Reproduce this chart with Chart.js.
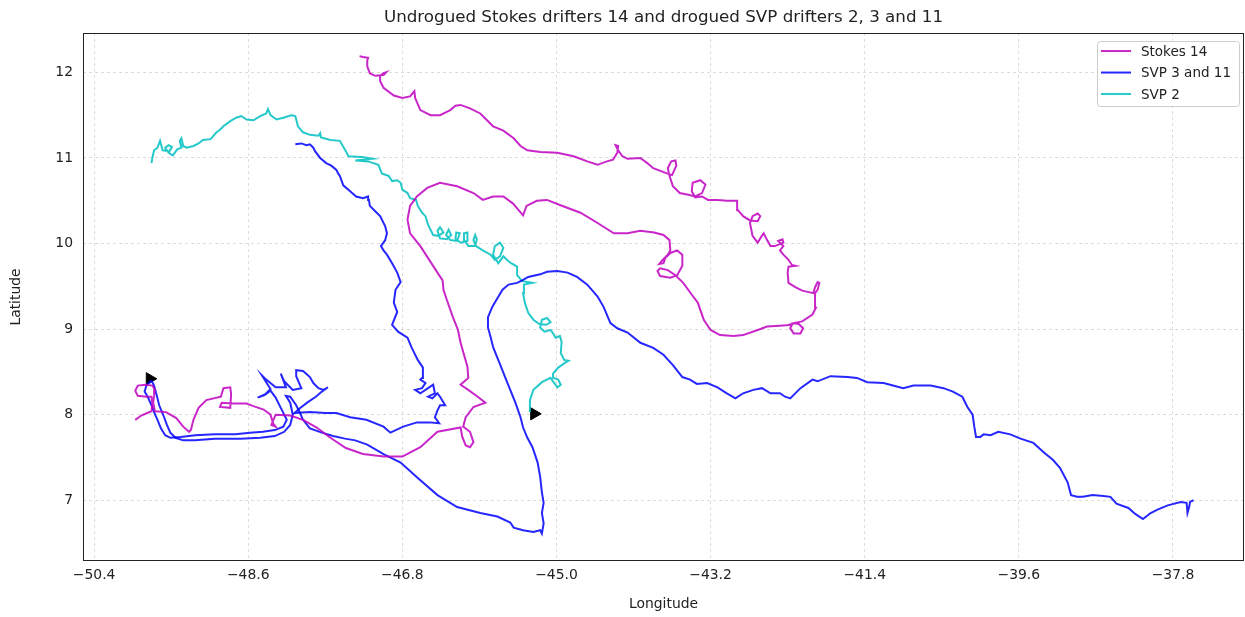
<!DOCTYPE html>
<html>
<head>
<meta charset="utf-8">
<script src="https://cdn.jsdelivr.net/npm/chart.js@4.4.1/dist/chart.umd.min.js"></script>
<style>
  body { margin: 0; background: #fff; }
  #wrap { width: 1245px; height: 617px; }
</style>
</head>
<body>
<div id="wrap"><canvas id="myChart" width="1245" height="617"></canvas></div>
<script>
// drifter tracks, [longitude, latitude]
const stokes14 = [
  [-49.92,7.94],[-49.85,7.99],[-49.78,8.02],[-49.73,8.04],[-49.72,8.13],[-49.73,8.21],[-49.79,8.21],[-49.89,8.22],[-49.92,8.28],[-49.89,8.34],
  [-49.80,8.35],[-49.72,8.34],[-49.69,8.29],[-49.70,8.22],[-49.71,8.14],[-49.69,8.04],[-49.56,8.03],[-49.44,7.96],[-49.36,7.86],[-49.29,7.80],
  [-49.27,7.82],[-49.24,7.94],[-49.18,8.08],[-49.09,8.17],[-48.92,8.21],[-48.89,8.31],[-48.81,8.32],[-48.80,8.24],[-48.81,8.08],[-48.93,8.09],
  [-48.91,8.14],[-48.78,8.13],[-48.62,8.13],[-48.54,8.10],[-48.42,8.06],[-48.34,8.00],[-48.31,7.90],[-48.28,7.86],[-48.33,7.88],[-48.28,8.00],
  [-48.11,7.99],[-47.96,7.94],[-47.80,7.85],[-47.64,7.73],[-47.46,7.61],[-47.26,7.54],[-47.02,7.51],[-46.80,7.51],[-46.59,7.62],[-46.39,7.80],
  [-46.12,7.85],[-46.10,7.74],[-46.06,7.64],[-46.01,7.62],[-45.97,7.68],[-46.01,7.80],[-46.09,7.86],[-46.06,7.97],[-45.97,8.09],[-45.83,8.14],
  [-45.92,8.21],[-46.03,8.29],[-46.12,8.35],[-46.03,8.43],[-46.04,8.56],[-46.12,8.84],[-46.15,8.99],[-46.21,9.14],[-46.28,9.34],[-46.32,9.46],
  [-46.33,9.57],[-46.39,9.66],[-46.59,9.97],[-46.71,10.12],[-46.74,10.28],[-46.71,10.44],[-46.63,10.55],[-46.51,10.65],[-46.36,10.71],[-46.16,10.67],
  [-45.97,10.59],[-45.86,10.51],[-45.74,10.55],[-45.62,10.55],[-45.51,10.47],[-45.39,10.33],[-45.35,10.44],[-45.23,10.50],[-45.11,10.51],[-44.96,10.45],
  [-44.72,10.36],[-44.52,10.24],[-44.33,10.12],[-44.17,10.12],[-44.02,10.15],[-43.86,10.13],[-43.75,10.10],[-43.68,10.04],[-43.67,9.92],[-43.70,9.87],
  [-43.76,9.81],[-43.80,9.76],[-43.75,9.77],[-43.73,9.83],[-43.67,9.89],[-43.59,9.92],[-43.53,9.87],[-43.53,9.74],[-43.59,9.63],[-43.67,9.60],
  [-43.79,9.62],[-43.82,9.68],[-43.79,9.71],[-43.70,9.69],[-43.61,9.63],[-43.52,9.54],[-43.41,9.39],[-43.35,9.31],[-43.28,9.11],[-43.20,8.99],
  [-43.09,8.93],[-42.93,8.92],[-42.82,8.93],[-42.65,8.99],[-42.54,9.03],[-42.39,9.04],[-42.25,9.05],[-42.27,9.01],[-42.23,8.95],[-42.15,8.95],
  [-42.12,9.01],[-42.17,9.06],[-42.23,9.07],[-42.13,9.09],[-42.01,9.17],[-41.97,9.25],[-41.98,9.42],[-41.95,9.46],[-41.93,9.54],[-41.95,9.55],
  [-41.98,9.49],[-42.00,9.42],[-42.13,9.45],[-42.21,9.49],[-42.29,9.54],[-42.30,9.66],[-42.29,9.73],[-42.21,9.74],[-42.25,9.75],[-42.29,9.81],
  [-42.35,9.87],[-42.39,9.92],[-42.35,9.97],[-42.41,10.03],[-42.36,10.05],[-42.35,10.01],[-42.45,9.97],[-42.50,9.97],[-42.54,10.04],[-42.58,10.12],
  [-42.62,10.06],[-42.65,10.01],[-42.71,10.09],[-42.74,10.24],[-42.71,10.32],[-42.65,10.35],[-42.62,10.32],[-42.65,10.26],[-42.74,10.27],[-42.82,10.32],
  [-42.88,10.39],[-42.89,10.50],[-43.01,10.50],[-43.12,10.51],[-43.23,10.51],[-43.30,10.55],[-43.38,10.54],[-43.42,10.61],[-43.41,10.71],[-43.32,10.74],
  [-43.26,10.69],[-43.30,10.59],[-43.38,10.55],[-43.46,10.57],[-43.56,10.59],[-43.64,10.67],[-43.68,10.79],[-43.70,10.88],[-43.66,10.96],[-43.61,10.97],
  [-43.60,10.91],[-43.65,10.80],[-43.71,10.82],[-43.87,10.88],[-43.94,10.94],[-44.02,11.00],[-44.17,10.99],[-44.23,11.02],[-44.28,11.09],[-44.31,11.15],
  [-44.28,11.14],[-44.29,11.06],[-44.34,10.98],[-44.41,10.96],[-44.52,10.92],[-44.64,10.96],[-44.80,11.02],[-44.99,11.06],[-45.19,11.07],[-45.34,11.09],
  [-45.42,11.14],[-45.50,11.23],[-45.62,11.32],[-45.74,11.37],[-45.89,11.52],[-46.01,11.58],[-46.12,11.62],[-46.18,11.61],[-46.24,11.56],[-46.36,11.50],
  [-46.47,11.50],[-46.59,11.56],[-46.65,11.70],[-46.66,11.78],[-46.71,11.72],[-46.80,11.70],[-46.90,11.73],[-47.02,11.82],[-47.06,11.90],[-47.06,11.96],
  [-47.02,11.99],[-46.99,12.00],[-47.02,11.97],[-47.12,11.96],[-47.18,11.99],[-47.21,12.07],[-47.21,12.14],[-47.20,12.17],[-47.26,12.18],[-47.30,12.19]
];

const svp3 = [
  [-49.73,8.40],[-49.79,8.34],[-49.81,8.27],[-49.77,8.20],[-49.73,8.11],[-49.70,8.03],[-49.66,7.94],[-49.62,7.84],[-49.57,7.76],[-49.51,7.73],
  [-49.39,7.74],[-49.22,7.76],[-48.99,7.77],[-48.75,7.77],[-48.58,7.79],[-48.43,7.80],[-48.29,7.82],[-48.19,7.86],[-48.15,7.94],[-48.22,8.08],
  [-48.28,8.20],[-48.34,8.28],[-48.41,8.23],[-48.49,8.20],[-48.40,8.24],[-48.34,8.30],[-48.39,8.38],[-48.44,8.46],[-48.39,8.41],[-48.28,8.32],
  [-48.16,8.32],[-48.19,8.40],[-48.22,8.48],[-48.18,8.39],[-48.08,8.29],[-47.98,8.31],[-48.04,8.45],[-48.04,8.52],[-47.96,8.51],[-47.88,8.44],
  [-47.84,8.37],[-47.78,8.31],[-47.72,8.29],[-47.67,8.32],[-47.74,8.27],[-47.81,8.21],[-47.90,8.15],[-47.99,8.08],[-48.06,8.02],[-47.88,8.03],
  [-47.70,8.02],[-47.57,8.02],[-47.41,7.97],[-47.22,7.94],[-47.02,7.86],[-46.94,7.79],[-46.79,7.86],[-46.63,7.91],[-46.48,7.91],[-46.37,7.90],
  [-46.42,7.97],[-46.39,8.05],[-46.36,8.11],[-46.30,8.11],[-46.36,8.21],[-46.39,8.25],[-46.45,8.19],[-46.50,8.21],[-46.42,8.25],[-46.44,8.35],
  [-46.50,8.31],[-46.59,8.25],[-46.65,8.29],[-46.57,8.31],[-46.53,8.37],[-46.59,8.41],[-46.57,8.43],[-46.56,8.55],[-46.62,8.64],[-46.69,8.78],
  [-46.74,8.90],[-46.85,8.97],[-46.92,9.05],[-46.86,9.20],[-46.90,9.31],[-46.88,9.46],[-46.82,9.55],[-46.86,9.66],[-46.92,9.77],[-46.98,9.87],
  [-47.02,9.92],[-47.05,9.97],[-47.00,10.04],[-46.98,10.12],[-47.00,10.20],[-47.06,10.32],[-47.12,10.38],[-47.18,10.44],[-47.19,10.51],[-47.20,10.55],
  [-47.26,10.53],[-47.34,10.55],[-47.41,10.61],[-47.49,10.68],[-47.53,10.79],[-47.55,10.82],[-47.57,10.86],[-47.63,10.91],[-47.69,10.94],[-47.76,11.00],
  [-47.82,11.08],[-47.84,11.12],[-47.88,11.16],[-47.92,11.15],[-47.98,11.17],[-48.05,11.16]
];

const svp11 = [
  [-49.73,8.40],[-49.70,8.34],[-49.67,8.23],[-49.64,8.11],[-49.59,7.99],[-49.55,7.88],[-49.51,7.79],[-49.45,7.73],[-49.36,7.70],[-49.22,7.70],
  [-48.99,7.72],[-48.69,7.72],[-48.46,7.73],[-48.29,7.75],[-48.18,7.80],[-48.11,7.88],[-48.08,8.00],[-48.11,8.14],[-48.16,8.22],[-48.11,8.21],
  [-48.04,8.11],[-48.00,8.03],[-47.96,7.94],[-47.88,7.84],[-47.74,7.79],[-47.61,7.75],[-47.47,7.72],[-47.35,7.70],[-47.21,7.65],[-47.02,7.54],
  [-46.82,7.44],[-46.63,7.27],[-46.39,7.06],[-46.16,6.92],[-45.89,6.85],[-45.69,6.81],[-45.54,6.74],[-45.50,6.68],[-45.39,6.65],[-45.27,6.63],
  [-45.19,6.65],[-45.17,6.61],[-45.15,6.73],[-45.17,6.85],[-45.15,6.97],[-45.17,7.09],[-45.19,7.27],[-45.22,7.44],[-45.28,7.62],[-45.34,7.73],
  [-45.39,7.85],[-45.42,7.97],[-45.48,8.14],[-45.54,8.29],[-45.60,8.44],[-45.68,8.64],[-45.74,8.79],[-45.77,8.91],[-45.80,9.02],[-45.80,9.14],
  [-45.75,9.26],[-45.69,9.36],[-45.63,9.46],[-45.56,9.52],[-45.46,9.54],[-45.40,9.57],[-45.33,9.61],[-45.19,9.64],[-45.11,9.67],[-44.99,9.68],
  [-44.87,9.66],[-44.76,9.61],[-44.64,9.52],[-44.52,9.38],[-44.45,9.26],[-44.37,9.07],[-44.29,9.01],[-44.17,8.96],[-44.02,8.84],[-43.87,8.78],
  [-43.75,8.70],[-43.64,8.58],[-43.53,8.44],[-43.44,8.41],[-43.36,8.36],[-43.24,8.37],[-43.12,8.32],[-43.01,8.25],[-42.91,8.19],[-42.82,8.25],
  [-42.70,8.29],[-42.60,8.31],[-42.50,8.25],[-42.39,8.25],[-42.33,8.21],[-42.27,8.19],[-42.15,8.31],[-42.01,8.41],[-41.95,8.39],[-41.80,8.45],
  [-41.60,8.44],[-41.49,8.43],[-41.37,8.38],[-41.18,8.37],[-41.07,8.34],[-40.95,8.31],[-40.83,8.34],[-40.63,8.34],[-40.48,8.31],[-40.37,8.27],
  [-40.26,8.21],[-40.20,8.09],[-40.14,8.00],[-40.12,7.86],[-40.10,7.74],[-40.05,7.74],[-40.01,7.77],[-39.93,7.76],[-39.84,7.80],[-39.70,7.77],
  [-39.58,7.72],[-39.43,7.67],[-39.31,7.56],[-39.20,7.47],[-39.12,7.38],[-39.03,7.21],[-38.99,7.06],[-38.92,7.04],[-38.85,7.04],[-38.74,7.06],
  [-38.61,7.05],[-38.53,7.04],[-38.46,6.96],[-38.32,6.91],[-38.24,6.84],[-38.15,6.78],[-38.06,6.85],[-37.98,6.89],[-37.86,6.94],[-37.71,6.98],
  [-37.64,6.97],[-37.63,6.85],[-37.61,6.92],[-37.60,6.98],[-37.56,7.00]
];

const svp2 = [
  [-45.31,8.03],[-45.31,8.17],[-45.27,8.29],[-45.17,8.38],[-45.07,8.43],[-44.99,8.32],[-44.95,8.35],[-44.98,8.41],[-45.04,8.43],[-45.04,8.48],
  [-44.98,8.55],[-44.91,8.60],[-44.86,8.63],[-44.91,8.64],[-44.95,8.72],[-44.94,8.85],[-44.96,8.92],[-45.01,8.90],[-45.04,8.95],[-45.07,8.99],
  [-45.14,8.97],[-45.19,9.02],[-45.17,9.11],[-45.11,9.13],[-45.07,9.08],[-45.12,9.05],[-45.20,9.06],[-45.27,9.11],[-45.33,9.19],[-45.37,9.31],
  [-45.39,9.42],[-45.38,9.52],[-45.28,9.54],[-45.34,9.55],[-45.40,9.56],[-45.46,9.63],[-45.46,9.73],[-45.53,9.77],[-45.58,9.81],[-45.62,9.85],
  [-45.68,9.77],[-45.74,9.87],[-45.72,9.97],[-45.66,10.01],[-45.62,9.95],[-45.66,9.85],[-45.72,9.81],[-45.77,9.87],[-45.86,9.92],[-45.94,9.97],
  [-45.97,10.04],[-45.95,10.10],[-45.93,10.05],[-45.95,9.97],[-46.03,9.97],[-46.07,10.03],[-46.08,10.12],[-46.04,10.13],[-46.04,10.03],[-46.12,10.01],
  [-46.18,10.06],[-46.17,10.13],[-46.13,10.12],[-46.16,10.03],[-46.24,10.04],[-46.29,10.10],[-46.26,10.16],[-46.23,10.10],[-46.28,10.05],[-46.36,10.06],
  [-46.39,10.15],[-46.36,10.19],[-46.32,10.13],[-46.38,10.09],[-46.44,10.10],[-46.50,10.22],[-46.53,10.32],[-46.57,10.36],[-46.62,10.44],[-46.64,10.51],
  [-46.71,10.53],[-46.74,10.59],[-46.80,10.63],[-46.82,10.71],[-46.86,10.74],[-46.92,10.73],[-46.96,10.79],[-47.04,10.82],[-47.08,10.92],[-47.20,10.96],
  [-47.35,10.97],[-47.15,10.99],[-47.27,11.01],[-47.43,11.02],[-47.46,11.08],[-47.53,11.20],[-47.64,11.21],[-47.75,11.24],[-47.76,11.29],[-47.78,11.26],
  [-47.88,11.27],[-47.96,11.30],[-48.02,11.37],[-48.05,11.49],[-48.10,11.50],[-48.19,11.47],[-48.27,11.45],[-48.34,11.50],[-48.37,11.57],[-48.39,11.52],
  [-48.46,11.49],[-48.54,11.44],[-48.62,11.45],[-48.68,11.49],[-48.74,11.47],[-48.81,11.43],[-48.89,11.37],[-48.93,11.33],[-48.97,11.30],[-49.04,11.22],
  [-49.13,11.21],[-49.18,11.17],[-49.24,11.14],[-49.32,11.12],[-49.36,11.14],[-49.38,11.23],[-49.40,11.20],[-49.38,11.12],[-49.43,11.10],[-49.48,11.03],
  [-49.53,11.06],[-49.57,11.12],[-49.53,11.15],[-49.49,11.13],[-49.52,11.08],[-49.60,11.09],[-49.63,11.20],[-49.66,11.12],[-49.70,11.09],[-49.72,11.00],
  [-49.73,10.94]
];

// deployment positions (black triangles)
const startLon = [-49.75, -45.26];
const startLat = [8.42, 8.01];

const xTicks = [-50.4, -48.6, -46.8, -45.0, -43.2, -41.4, -39.6, -37.8];
const yTicks = [7, 8, 9, 10, 11, 12];

const titleText = 'Undrogued Stokes drifters 14 and drogued SVP drifters 2, 3 and 11';
const FONT = "'DejaVu Sans', sans-serif";

const MAGENTA = 'rgba(191,0,191,0.85)';
const BLUE = 'rgba(0,0,255,0.85)';
const CYAN = 'rgba(0,191,191,0.85)';

const toXY = arr => arr.map(p => ({x: p[0], y: p[1]}));

function track(label, pts, color) {
  return {
    label: label,
    data: toXY(pts),
    showLine: true,
    borderColor: color,
    backgroundColor: color,
    borderWidth: 2,
    pointRadius: 0,
    tension: 0
  };
}

// legend inside the axes, top right, like matplotlib
const legendItems = [
  {label: 'Stokes 14', color: MAGENTA},
  {label: 'SVP 3 and 11', color: BLUE},
  {label: 'SVP 2', color: CYAN}
];

const frameAndLegend = {
  id: 'frameAndLegend',
  afterDraw(chart) {
    const {ctx, chartArea: a} = chart;
    ctx.save();
    // spines
    ctx.strokeStyle = '#222';
    ctx.lineWidth = 1;
    ctx.strokeRect(Math.round(a.left) + 0.5, Math.round(a.top) + 0.5,
                   Math.round(a.right - a.left) - 1, Math.round(a.bottom - a.top) - 1);

    // legend box
    const bw = 142, bh = 65;
    const bx = a.right - 5 - bw, by = a.top + 8;
    ctx.fillStyle = 'rgba(255,255,255,0.8)';
    ctx.strokeStyle = '#cccccc';
    ctx.beginPath();
    ctx.roundRect(bx + 0.5, by + 0.5, bw, bh, 3);
    ctx.fill();
    ctx.stroke();

    ctx.font = '13.5px ' + FONT;
    ctx.textBaseline = 'middle';
    ctx.textAlign = 'left';
    legendItems.forEach((it, i) => {
      const y = by + 10 + i * 21.5;
      ctx.strokeStyle = it.color;
      ctx.lineWidth = 2;
      ctx.beginPath();
      ctx.moveTo(bx + 4, y);
      ctx.lineTo(bx + 34, y);
      ctx.stroke();
      ctx.fillStyle = '#222';
      ctx.fillText(it.label, bx + 44, y + 1);
    });
    ctx.restore();
  }
};

const ctx = document.getElementById('myChart').getContext('2d');

new Chart(ctx, {
  type: 'scatter',
  data: {
    datasets: [
      track('Stokes 14', stokes14, MAGENTA),
      track('SVP 3', svp3, BLUE),
      track('SVP 11', svp11, BLUE),
      track('SVP 2', svp2, CYAN),
      {
        label: 'start',
        data: startLon.map((v, i) => ({x: v, y: startLat[i]})),
        pointStyle: 'triangle',
        rotation: 90,
        pointRadius: 7,
        backgroundColor: '#000',
        borderColor: '#000',
        borderWidth: 1,
        showLine: false
      }
    ]
  },
  options: {
    responsive: false,
    animation: false,
    devicePixelRatio: 1,
    events: [],
    layout: {
      autoPadding: false, // 三角マーカー分の余白を付けない
      padding: {left: 0, right: 1, top: 0, bottom: 0}
    },
    plugins: {
      legend: {display: false},
      tooltip: {enabled: false},
      title: {
        display: true,
        fullSize: false, // 描画エリアの中央に置く
        text: titleText,
        color: '#222',
        font: {family: FONT, size: 16.7, weight: 'normal'},
        padding: {top: 8, bottom: 5}
      }
    },
    scales: {
      x: {
        type: 'linear',
        min: -50.53,
        max: -36.97,
        afterBuildTicks: s => { s.ticks = xTicks.map(v => ({value: v})); },
        afterFit: s => { s.height = 56; },
        grid: {color: 'rgba(0,0,0,0.17)', lineWidth: 0.8, drawTicks: false},
        border: {display: false, dash: [3, 3]},
        ticks: {
          padding: 6,
          color: '#222',
          font: {family: FONT, size: 13.9},
          maxRotation: 0,
          callback: v => (v < 0 ? '\u2212' : '') + Math.abs(v).toFixed(1)
        },
        title: {
          display: true,
          text: 'Longitude',
          color: '#222',
          font: {family: FONT, size: 13.9},
          padding: {top: 0, bottom: 4}
        }
      },
      y: {
        type: 'linear',
        min: 6.29,
        max: 12.46,
        afterBuildTicks: s => { s.ticks = yTicks.map(v => ({value: v})); },
        afterFit: s => { s.width = 83; },
        grid: {color: 'rgba(0,0,0,0.17)', lineWidth: 0.8, drawTicks: false},
        border: {display: false, dash: [3, 3]},
        ticks: {
          padding: 10,
          color: '#222',
          font: {family: FONT, size: 13.9},
          callback: v => String(v)
        },
        title: {
          display: true,
          text: 'Latitude',
          color: '#222',
          font: {family: FONT, size: 13.9},
          padding: {top: 8, bottom: 0}
        }
      }
    }
  },
  plugins: [frameAndLegend]
});
</script>
</body>
</html>
